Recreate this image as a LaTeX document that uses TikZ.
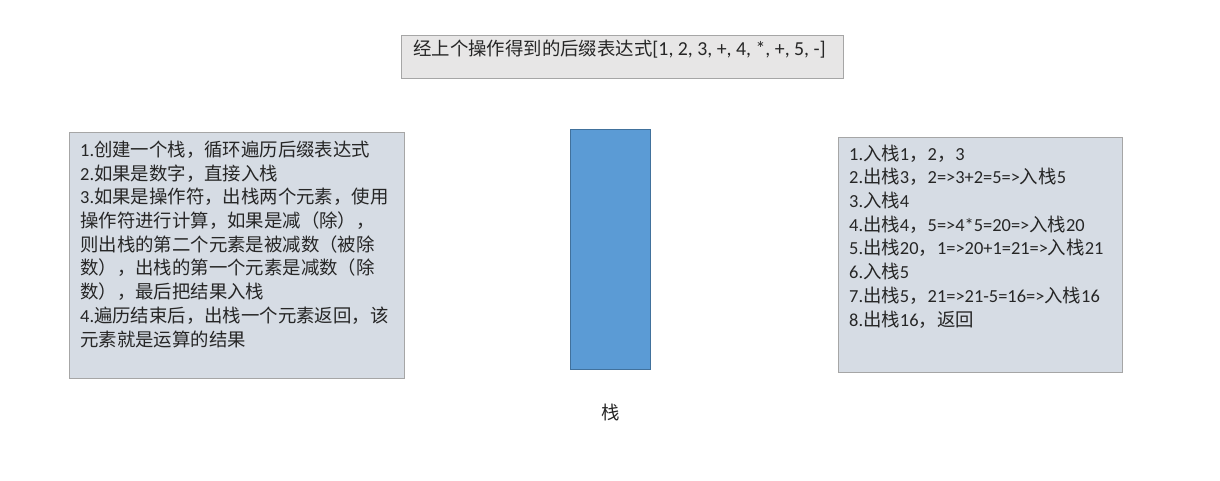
\documentclass[tikz,border=0pt]{standalone}
\usepackage{fontspec}
\setmainfont{Carlito}
\newfontfamily\cjk{Noto Sans CJK SC}
\newcommand\zhs[1]{{\cjk #1}}
\definecolor{txt}{HTML}{262626}
\definecolor{boxgray}{HTML}{D6DCE4}
\definecolor{topgray}{HTML}{E7E6E6}
\definecolor{edgegray}{HTML}{A6A6A6}
\definecolor{stackfill}{HTML}{5B9BD5}
\definecolor{stackedge}{HTML}{41719C}
\begin{document}
\begin{tikzpicture}[x=1pt,y=-1pt,
  panel/.style={draw=edgegray, line width=0.8pt},
  para/.style={anchor=base west, inner sep=0pt, align=left, text=txt,
    font=\fontsize{18.4}{23.7}\selectfont}]
\useasboundingbox[fill=white] (0,0) rectangle (1220,480);
% top box
\draw[panel, fill=topgray] (401,35) rectangle (843,78);
\node[para] (toptext) at (413,55) {\zhs{经上个操作得到的后缀表达式}{\fontsize{19.8}{23.7}\selectfont[1, 2, 3, +, 4, *, +, 5, -]}};
% left box (anchor is the baseline of the last line)
\draw[panel, fill=boxgray] (69,132) rectangle (404,378);
\node[para] (lefttext) at (80,346) {1.\zhs{创建一个栈，循环遍历后缀表达式}\\
2.\zhs{如果是数字，直接入栈}\\
3.\zhs{如果是操作符，出栈两个元素，使用}\\
\zhs{操作符进行计算，如果是减（除），}\\
\zhs{则出栈的第二个元素是被减数（被除}\\
\zhs{数），出栈的第一个元素是减数（除}\\
\zhs{数），最后把结果入栈}\\
4.\zhs{遍历结束后，出栈一个元素返回，该}\\
\zhs{元素就是运算的结果}};
% stack
\draw[fill=stackfill, draw=stackedge, line width=0.8pt] (570,129) rectangle (650,369);
\node[anchor=center, inner sep=0pt, text=txt, font=\fontsize{18.4}{20}\selectfont] (stacklabel) at (611,412) {\zhs{栈}};
% right box (anchor is the baseline of the last line)
\draw[panel, fill=boxgray] (838,137) rectangle (1122,372);
\node[para] (righttext) at (849,326) {1.\zhs{入栈}1\zhs{，}2\zhs{，}3\\
2.\zhs{出栈}3\zhs{，}2=>3+2=5=>\zhs{入栈}5\\
3.\zhs{入栈}4\\
4.\zhs{出栈}4\zhs{，}5=>4*5=20=>\zhs{入栈}20\\
5.\zhs{出栈}20\zhs{，}1=>20+1=21=>\zhs{入栈}21\\
6.\zhs{入栈}5\\
7.\zhs{出栈}5\zhs{，}21=>21-5=16=>\zhs{入栈}16\\
8.\zhs{出栈}16\zhs{，返回}};
\end{tikzpicture}
\end{document}
